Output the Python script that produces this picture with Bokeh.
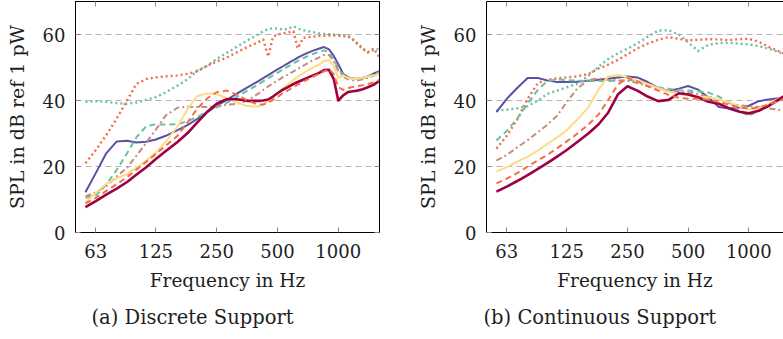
from bokeh.plotting import figure
from bokeh.layouts import row
from bokeh.models import (FixedTicker, NumeralTickFormatter, LogAxis, LinearAxis, Title)
from bokeh.embed import file_html
from bokeh.resources import INLINE

# ---------------------------------------------------------------- data
# (a) discrete support: frequency grid in Hz and SPL in dB re 1 pW
freq_a = [56, 63, 71, 80, 90, 100, 112, 125, 140, 160, 180, 200, 224, 250, 280,
          315, 355, 400, 425, 450, 475, 500, 530, 560, 600, 630, 670, 710, 750,
          800, 850, 900, 950, 1000, 1060, 1120, 1180, 1250, 1320, 1400, 1500, 1600]

crimson_a = [7.7, 9.5, 11.5, 13.3, 15.3, 17.5, 19.8, 22.3, 24.7, 27.4, 30.2, 33.3,
             36.5, 39.0, 40.4, 40.4, 39.9, 39.9, 40.0, 40.3, 41.2, 42.2, 43.2, 44.0,
             45.0, 45.6, 46.3, 47.0, 47.6, 48.3, 49.2, 49.3, 46.5, 40.0, 41.6, 42.6,
             42.8, 43.0, 43.4, 44.0, 44.8, 46.0]
orange_dash_a = [8.8, 10.5, 12.6, 14.6, 16.8, 19.0, 21.4, 23.8, 26.3, 29.3, 33.5, 37.5,
                 40.6, 42.5, 43.0, 41.8, 40.0, 38.8, 38.8, 39.3, 40.2, 41.0, 42.2, 43.0,
                 44.0, 44.8, 45.7, 46.5, 47.2, 48.0, 48.8, 49.5, 48.0, 44.0, 43.2, 43.8,
                 44.1, 44.4, 44.6, 45.0, 45.5, 46.2]
yellow_a = [9.2, 12.0, 14.8, 16.4, 17.7, 19.6, 21.8, 24.2, 27.5, 32.2, 37.5, 41.3,
            42.2, 41.9, 40.8, 39.3, 38.3, 38.2, 38.8, 39.8, 41.0, 42.3, 43.6, 44.8,
            46.2, 47.2, 48.2, 49.2, 50.0, 50.8, 52.0, 52.3, 50.5, 46.8, 47.6, 46.8,
            46.5, 46.6, 46.9, 47.2, 47.6, 48.0]
brown_a = [10.9, 12.2, 14.0, 17.0, 19.6, 23.2, 27.2, 31.2, 35.5, 37.8, 38.1, 38.0,
           38.0, 38.3, 38.7, 39.0, 40.0, 42.0, 43.2, 44.3, 45.2, 46.0, 47.0, 47.8,
           48.8, 49.6, 50.5, 51.4, 52.2, 53.0, 53.8, 53.8, 51.8, 49.0, 47.2, 46.4,
           46.1, 46.1, 46.4, 46.9, 47.5, 48.1]
teal_dash_a = [10.5, 11.2, 14.5, 19.0, 24.0, 28.8, 32.2, 32.8, 32.7, 32.8, 33.8, 35.0,
               36.6, 37.9, 39.3, 41.1, 43.0, 44.8, 45.8, 46.7, 47.6, 48.4, 49.3, 50.2,
               51.2, 52.0, 52.8, 53.5, 54.1, 54.7, 55.2, 54.6, 52.5, 49.5, 47.8, 47.0,
               46.7, 46.6, 46.8, 47.3, 48.0, 48.6]
purple_a = [12.2, 18.0, 24.0, 27.6, 27.8, 27.3, 27.5, 28.2, 29.3, 31.0, 32.6, 34.4,
            36.5, 38.4, 40.2, 42.1, 44.0, 45.8, 46.8, 47.7, 48.6, 49.4, 50.3, 51.2,
            52.2, 53.0, 53.8, 54.5, 55.1, 55.7, 56.2, 55.5, 53.5, 51.0, 48.0, 47.0,
            46.7, 46.6, 46.8, 47.3, 48.2, 48.9]
orange_dot_a = [21.0, 25.0, 29.5, 34.5, 40.0, 45.0, 46.5, 47.0, 47.3, 47.6, 48.1, 48.8,
                50.5, 51.8, 53.0, 54.6, 56.2, 57.6, 58.5, 53.3, 59.3, 60.0, 60.3, 60.6,
                61.0, 55.8, 59.0, 59.2, 59.4, 59.5, 59.6, 59.7, 59.7, 59.6, 59.5, 59.4,
                58.5, 57.0, 55.6, 54.6, 55.8, 53.0]
teal_dot_a = [39.6, 39.8, 39.6, 39.2, 39.0, 39.4, 40.2, 41.0, 42.5, 44.5, 46.5, 49.0,
              50.5, 52.6, 54.4, 56.3, 58.2, 60.0, 61.0, 61.6, 61.9, 61.8, 61.5, 61.6,
              62.5, 61.8, 61.3, 61.0, 60.7, 60.4, 60.2, 60.1, 60.0, 59.9, 59.8, 59.5,
              58.5, 57.3, 55.8, 54.6, 55.3, 55.7]

# (b) continuous support
freq_b = [56, 63, 71, 80, 90, 100, 112, 125, 140, 160, 180, 200, 224, 250, 280,
          315, 355, 400, 450, 500, 560, 630, 710, 800, 900, 1000, 1120, 1250, 1400, 1600]

crimson_b = [12.4, 13.9, 15.6, 17.4, 19.3, 21.0, 23.0, 25.0, 27.3, 30.0, 32.8, 36.2,
             41.8, 44.3, 43.0, 41.2, 39.8, 40.2, 42.2, 41.8, 41.0, 39.6, 39.0, 37.6,
             36.6, 36.1, 36.9, 38.3, 40.2, 42.5]
orange_dash_b = [14.9, 16.3, 18.0, 20.0, 21.9, 23.5, 25.5, 27.6, 29.8, 32.7, 35.8, 40.0,
                 44.8, 46.8, 45.8, 44.3, 43.0, 41.7, 40.8, 40.5, 40.5, 40.3, 39.6, 38.7,
                 38.0, 37.5, 37.9, 38.8, 39.8, 41.0]
yellow_b = [18.5, 19.8, 21.5, 23.0, 24.8, 26.8, 28.8, 31.0, 34.0, 38.0, 43.3, 47.3,
            47.7, 47.0, 46.0, 45.0, 43.8, 42.7, 42.0, 41.6, 41.2, 41.0, 40.3, 39.5,
            38.2, 37.4, 37.6, 38.8, 40.5, 42.5]
brown_b = [21.8, 23.5, 25.8, 28.0, 30.4, 32.6, 35.4, 39.5, 43.4, 46.3, 46.7, 46.3,
           46.1, 46.0, 45.3, 44.5, 43.7, 43.0, 42.7, 42.4, 42.0, 41.2, 40.2, 39.2,
           38.5, 38.3, 38.0, 37.6, 37.2, 36.8]
teal_dash_b = [27.9, 30.8, 34.5, 39.0, 43.3, 45.8, 46.4, 46.2, 46.0, 45.9, 45.9, 45.9,
               46.0, 46.1, 46.1, 45.0, 44.0, 43.6, 43.1, 43.0, 42.8, 42.4, 41.2, 39.3,
               36.8, 35.3, 37.0, 38.5, 40.0, 41.8]
purple_b = [36.5, 40.5, 43.8, 46.8, 46.8, 46.1, 45.6, 45.6, 45.7, 46.0, 46.3, 46.6,
            47.0, 47.3, 47.0, 45.6, 43.8, 42.9, 43.6, 44.4, 43.3, 41.0, 38.0, 37.6,
            37.9, 38.4, 39.8, 40.3, 40.7, 41.3]
orange_dot_b = [25.4, 29.3, 34.2, 40.5, 45.3, 46.3, 46.7, 47.0, 47.3, 48.0, 49.7, 50.8,
                52.3, 54.0, 55.8, 57.2, 58.4, 59.2, 58.7, 58.2, 58.4, 58.6, 58.5, 58.3,
                58.6, 58.7, 57.8, 56.3, 55.0, 53.5]
teal_dot_b = [37.0, 37.2, 37.6, 38.3, 40.0, 42.0, 43.0, 44.0, 45.0, 47.5, 50.3, 52.5,
              54.3, 55.7, 57.3, 59.3, 61.2, 61.3, 60.0, 57.6, 55.0, 56.9, 57.4, 57.5,
              57.2, 57.0, 56.5, 55.7, 54.7, 53.5]

x_ticks = [63, 125, 250, 500, 1000]
y_ticks = [0, 20, 40, 60]
grid_levels = [20, 40, 60]

# ---------------------------------------------------------------- styles
FONT = "DejaVu Serif"
TEXT = "#1e1e1e"

# (series key, colour, dash pattern, width) in drawing order
styles = [
    ("teal_dot", "#66C2A5", "2 3", 2.4),
    ("orange_dot", "#F46D43", "2 3", 2.4),
    ("purple", "#5E4FA2", "solid", 2.0),
    ("teal_dash", "#66C2A5", "6 4", 2.0),
    ("brown", "#C98B80", "6 3 2 3", 2.0),
    ("yellow", "#FEDC85", "solid", 2.0),
    ("crimson", "#9E0142", "solid", 2.6),
    ("orange_dash", "#F46D43", "6 4", 2.0),
]

series_a = {"teal_dot": teal_dot_a, "orange_dot": orange_dot_a, "purple": purple_a,
            "teal_dash": teal_dash_a, "brown": brown_a, "yellow": yellow_a,
            "crimson": crimson_a, "orange_dash": orange_dash_a}
series_b = {"teal_dot": teal_dot_b, "orange_dot": orange_dot_b, "purple": purple_b,
            "teal_dash": teal_dash_b, "brown": brown_b, "yellow": yellow_b,
            "crimson": crimson_b, "orange_dash": orange_dash_b}


def style_axis(ax, labels=True):
    ax.axis_line_color = "black"
    ax.axis_line_width = 1
    ax.major_tick_in = 5
    ax.major_tick_out = 0
    ax.major_tick_line_color = "#8a8a8a"
    ax.major_tick_line_width = 1
    ax.minor_tick_line_color = None
    if labels:
        ax.major_label_text_font = FONT
        ax.major_label_text_font_size = "18px"
        ax.major_label_text_color = TEXT
    else:
        # tick marks only, no numbers on the mirrored side
        ax.major_label_text_font_size = "1px"
        ax.major_label_text_color = None
        ax.major_label_standoff = 0


def panel(freqs, curves, x_end, width, border_left, border_right, caption,
          caption_offset, right_frame):
    p = figure(width=width, height=339, x_axis_type="log",
               x_range=(50, x_end), y_range=(0, 70),
               output_backend="svg", toolbar_location=None,
               min_border_left=border_left, min_border_right=border_right,
               min_border_top=1, min_border_bottom=107,
               background_fill_color="white", border_fill_color="white")
    p.outline_line_color = "black" if right_frame else None

    p.xgrid.grid_line_color = None
    p.ygrid.ticker = FixedTicker(ticks=grid_levels)
    p.ygrid.grid_line_color = "#b4b4b4"
    p.ygrid.grid_line_dash = "6 4"
    p.ygrid.grid_line_width = 1

    xb = p.below[0]
    xb.ticker = FixedTicker(ticks=x_ticks)
    xb.formatter = NumeralTickFormatter(format="0")
    style_axis(xb)
    xb.major_label_standoff = 11
    xb.axis_label = "Frequency in Hz"
    xb.axis_label_text_font = FONT
    xb.axis_label_text_font_size = "18.5px"
    xb.axis_label_text_font_style = "normal"
    xb.axis_label_text_color = TEXT
    xb.axis_label_standoff = 9

    yl = p.left[0]
    yl.ticker = FixedTicker(ticks=y_ticks)
    style_axis(yl)
    yl.major_label_standoff = 10
    yl.axis_label = "SPL in dB ref 1 pW"
    yl.axis_label_text_font = FONT
    yl.axis_label_text_font_size = "19px"
    yl.axis_label_text_font_style = "normal"
    yl.axis_label_text_color = TEXT
    yl.axis_label_standoff = 12

    top = LogAxis(ticker=FixedTicker(ticks=x_ticks))
    style_axis(top, labels=False)
    p.add_layout(top, "above")
    if right_frame:
        rax = LinearAxis(ticker=FixedTicker(ticks=y_ticks))
        style_axis(rax, labels=False)
        p.add_layout(rax, "right")

    for key, color, dash, lw in styles:
        p.line(freqs, curves[key], line_color=color, line_width=lw,
               line_dash=dash, line_join="round")

    # sub-figure caption below the axis label
    p.add_layout(Title(text=caption, align="left", offset=caption_offset,
                       text_font=FONT, text_font_size="19.5px",
                       text_font_style="normal", text_color=TEXT,
                       standoff=20), "below")
    return p


left = panel(freq_a, series_a, 1600, 400, 75, 21, "(a) Discrete Support", 16, True)
right = panel(freq_b, series_b, 1486, 383, 86, 0, "(b) Continuous Support", -3, False)

layout = row(left, right, spacing=0)
open("out.html", "w").write(file_html(layout, INLINE))
